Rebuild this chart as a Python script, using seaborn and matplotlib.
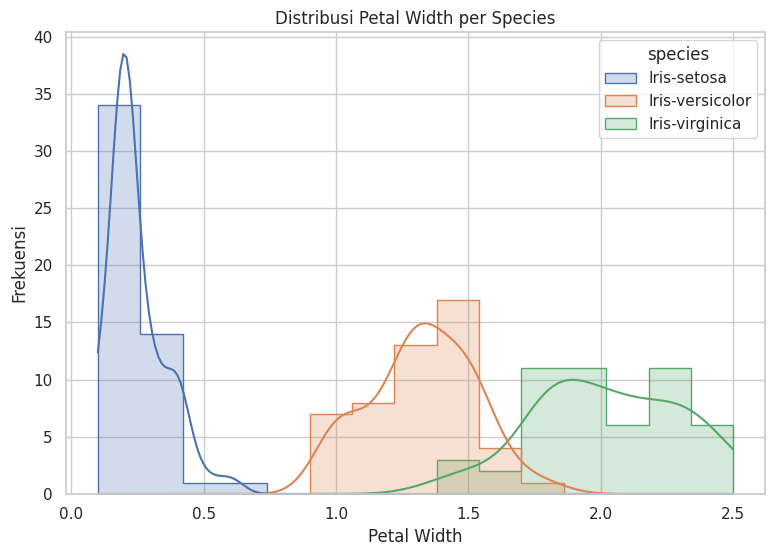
import numpy as np
import pandas as pd
import matplotlib
matplotlib.use("Agg")
import matplotlib.pyplot as plt
import seaborn as sns

# petal width values and how often each occurs, per species (iris data)
setosa_vals = [0.1, 0.2, 0.3, 0.4, 0.5, 0.6]
setosa_counts = [6, 28, 7, 7, 1, 1]

versicolor_vals = [1.0, 1.1, 1.2, 1.3, 1.4, 1.5, 1.6, 1.7, 1.8]
versicolor_counts = [7, 3, 5, 13, 7, 10, 3, 1, 1]

virginica_vals = [1.4, 1.5, 1.6, 1.7, 1.8, 1.9, 2.0, 2.1, 2.2, 2.3, 2.4, 2.5]
virginica_counts = [1, 2, 1, 1, 11, 5, 6, 6, 3, 8, 3, 3]

species = ["Iris-setosa", "Iris-versicolor", "Iris-virginica"]

frames = []
for name, vals, counts in zip(species,
                              [setosa_vals, versicolor_vals, virginica_vals],
                              [setosa_counts, versicolor_counts, virginica_counts]):
    frames.append(pd.DataFrame({"petal_width": np.repeat(vals, counts),
                                "species": name}))
df = pd.concat(frames, ignore_index=True)

sns.set_theme(style="whitegrid")
fig = plt.figure(figsize=(7.73, 5.56), dpi=100)
sns.histplot(data=df, x="petal_width", hue="species", kde=True,
             element="step", bins=15)
plt.title("Distribusi Petal Width per Species")
plt.xlabel("Petal Width")
plt.ylabel("Frekuensi")
fig.subplots_adjust(left=0.0854, right=0.9897, bottom=0.1115, top=0.9424)
plt.savefig("out.png", dpi=100)
plt.close()
